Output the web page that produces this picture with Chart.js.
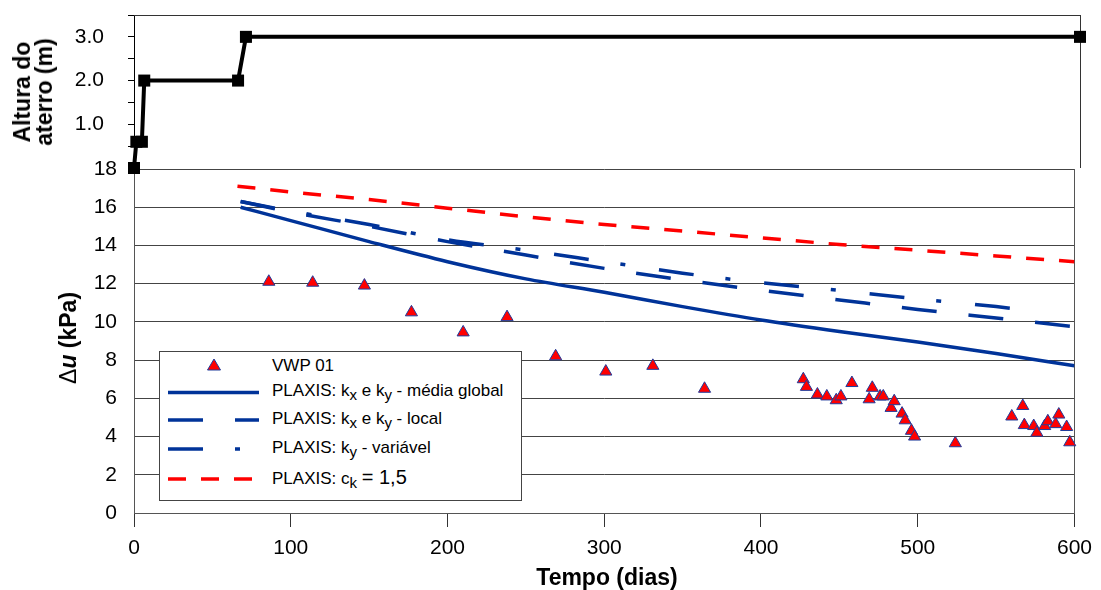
<!DOCTYPE html>
<html>
<head>
<meta charset="utf-8">
<title>Altura do aterro e Δu - VWP 01</title>
<script src="https://cdn.jsdelivr.net/npm/chart.js@4.4.1/dist/chart.umd.min.js"></script>
<style>
  body { margin: 0; background: #fff; }
  #wrap { position: relative; width: 1101px; height: 590px; overflow: hidden;
          font-family: Arial, "Liberation Sans", sans-serif; color: #000; }
  #wrap canvas { position: absolute; left: 0; top: 0; }
  .ttl { position: absolute; font-size: 23px; font-weight: bold; white-space: nowrap;
         line-height: 22px; text-align: center; transform: translate(-50%, -50%); }
  .rot { transform: translate(-50%, -50%) rotate(-90deg); }
  .ttl .delta { font-weight: normal; }
  #legend { position: absolute; left: 159px; top: 351px; width: 363px; height: 150px;
            box-sizing: border-box; border: 1px solid #444; background: #fff; }
  #legend svg { position: absolute; left: -1px; top: -1px; }
  #legend .row { position: absolute; left: 112px; font-size: 17px; line-height: 20px; white-space: nowrap; }
  #legend sub { font-size: 15px; vertical-align: -4px; line-height: 0; }
  #legend .big { font-size: 20px; }
</style>
</head>
<body>
<div id="wrap">
  <canvas id="cBottom" width="1101" height="590"></canvas>
  <canvas id="cTop" width="1101" height="590"></canvas>
  <div class="ttl rot" style="left:33px; top:92px;">Altura do<br>aterro (m)</div>
  <div class="ttl rot" style="left:68px; top:338px;"><span class="delta">Δ</span><i>u</i> (kPa)</div>
  <div class="ttl" style="left:607px; top:577px;">Tempo (dias)</div>
  <div id="legend">
    <svg width="363" height="150">
      <polygon points="55,8 61.5,19 48.5,19" fill="#ff0000" stroke="#203c9c" stroke-width="1"/>
      <line x1="9" y1="41.5" x2="100" y2="41.5" stroke="#003399" stroke-width="3.5"/>
      <line x1="9" y1="69" x2="100" y2="69" stroke="#003399" stroke-width="3.5" stroke-dasharray="35 32"/>
      <line x1="9" y1="98" x2="100" y2="98" stroke="#003399" stroke-width="3.5" stroke-dasharray="35 32 5 34"/>
      <line x1="9" y1="128" x2="100" y2="128" stroke="#ff0000" stroke-width="3.5" stroke-dasharray="18 15"/>
    </svg>
    <div class="row" style="top:4px;">VWP 01</div>
    <div class="row" style="top:29px;">PLAXIS: k<sub>x</sub> e k<sub>y</sub> - média global</div>
    <div class="row" style="top:57px;">PLAXIS: k<sub>x</sub> e k<sub>y</sub> - local</div>
    <div class="row" style="top:86px;">PLAXIS: k<sub>y</sub> - variável</div>
    <div class="row" style="top:115px;">PLAXIS: c<sub>k</sub> <span class="big">= 1,5</span></div>
  </div>
</div>
<script>
// altura do aterro (m) x tempo (dias)
const alturaDias = [0, 1.5, 5, 6.5, 66, 71, 600];
const alturaM = [0, 0.6, 0.6, 2.0, 2.0, 3.0, 3.0];

// VWP 01 - excesso de poropressao medido (kPa)
const vwpDias = [86, 114, 147, 177, 210, 238, 269, 301, 331, 364,
                 427, 429, 436, 442, 448, 451, 458, 469, 471, 476, 478, 483, 485, 490, 492, 496, 498,
                 524, 560, 567, 568, 574, 576, 581, 583, 588, 590, 595, 597];
const vwpKpa = [12.1, 12.05, 11.9, 10.5, 9.45, 10.25, 8.2, 7.4, 7.7, 6.5,
                7.0, 6.6, 6.2, 6.1, 5.9, 6.1, 6.8, 5.95, 6.55, 6.1, 6.1, 5.5, 5.85, 5.2, 4.85, 4.3, 4.0,
                3.65, 5.05, 5.6, 4.6, 4.55, 4.2, 4.55, 4.8, 4.65, 5.15, 4.5, 3.7];

// PLAXIS
const plaxisDias = [68, 100, 150, 200, 250, 300, 350, 400, 450, 500, 550, 600];
const globalKpa = [16.0, 15.3, 14.2, 13.15, 12.25, 11.55, 10.8, 10.1, 9.5, 8.95, 8.35, 7.7];
const localKpa = [16.3, 15.75, 15.0, 14.2, 13.5, 12.8, 12.2, 11.65, 11.15, 10.65, 10.2, 9.75];
const variavelDias = [68, 100, 150, 200, 250, 300, 350, 400, 450, 500, 550, 579];
const variavelKpa = [16.3, 15.8, 15.1, 14.3, 13.75, 13.15, 12.55, 12.05, 11.65, 11.2, 10.8, 10.5];
const ckDias = [66, 100, 150, 200, 250, 300, 350, 400, 450, 500, 550, 600];
const ckKpa = [17.1, 16.8, 16.4, 15.95, 15.5, 15.1, 14.75, 14.4, 14.05, 13.75, 13.45, 13.15];

// eixos
const tempoTicks = [0, 100, 200, 300, 400, 500, 600];
const duTicks = [0, 2, 4, 6, 8, 10, 12, 14, 16, 18];
const alturaTicks = [0.5, 1.0, 1.5, 2.0, 2.5, 3.0, 3.5];
const alturaLabels = ['', '1.0', '', '2.0', '', '3.0', ''];

const pts = (xs, ys) => xs.map((x, i) => ({ x: x, y: ys[i] }));

// eixo y com largura fixa, sem folga extra em cima/embaixo
const fixY = s => { s.width = 134; s.paddingTop = 0; s.paddingBottom = 0; };

Chart.defaults.font.family = 'Arial, "Liberation Sans", sans-serif';
Chart.defaults.color = '#000';

// moldura (topo / direita) do painel
const framePlugin = {
  id: 'frame',
  beforeDatasetsDraw(chart, args, opts) {
    const { ctx, chartArea: a } = chart;
    ctx.save();
    ctx.strokeStyle = opts.color;
    ctx.lineWidth = 1;
    ctx.beginPath();
    if (opts.top) {
      ctx.moveTo(a.left, Math.round(a.top) + 0.5);
      ctx.lineTo(a.right, Math.round(a.top) + 0.5);
    }
    ctx.moveTo(Math.round(a.right) + 0.5, a.top);
    ctx.lineTo(Math.round(a.right) + 0.5, a.bottom);
    ctx.stroke();
    ctx.restore();
  }
};

// painel superior: altura do aterro
new Chart('cTop', {
  type: 'line',
  data: {
    datasets: [{
      data: pts(alturaDias, alturaM),
      borderColor: '#000',
      borderWidth: 4,
      pointStyle: 'rect',
      pointRadius: 8.5,
      pointBackgroundColor: '#000',
      pointBorderWidth: 0,
      clip: false
    }]
  },
  options: {
    responsive: false,
    animation: false,
    events: [],
    layout: { padding: { left: 0, right: 21, top: 15, bottom: 422 } },
    plugins: {
      legend: { display: false },
      tooltip: { enabled: false },
      frame: { color: '#333', top: true }
    },
    scales: {
      x: { type: 'linear', min: 0, max: 600, display: false },
      y: {
        min: 0, max: 3.5,
        afterBuildTicks: s => { s.ticks = alturaTicks.map(v => ({ value: v })); },
        afterFit: fixY,
        ticks: {
          autoSkip: false,
          padding: 24,
          font: { size: 21 },
          callback: (v, i) => alturaLabels[i]
        },
        grid: { drawOnChartArea: false, tickLength: 6, color: '#000' },
        border: { color: '#000' }
      }
    }
  },
  plugins: [framePlugin]
});

// painel inferior: excesso de poropressao
new Chart('cBottom', {
  type: 'line',
  data: {
    datasets: [
      {
        label: 'VWP 01',
        data: pts(vwpDias, vwpKpa),
        showLine: false,
        pointStyle: 'triangle',
        pointRadius: 7,
        pointBackgroundColor: '#ff0000',
        pointBorderColor: '#203c9c',
        pointBorderWidth: 1,
        clip: false
      },
      {
        label: 'PLAXIS: kx e ky - média global',
        data: pts(plaxisDias, globalKpa),
        borderColor: '#003399',
        borderWidth: 3.5,
        pointRadius: 0,
        cubicInterpolationMode: 'monotone'
      },
      {
        label: 'PLAXIS: kx e ky - local',
        data: pts(plaxisDias, localKpa),
        borderColor: '#003399',
        borderWidth: 3.5,
        borderDash: [35, 32],
        pointRadius: 0,
        cubicInterpolationMode: 'monotone'
      },
      {
        label: 'PLAXIS: ky - variável',
        data: pts(variavelDias, variavelKpa),
        borderColor: '#003399',
        borderWidth: 3.5,
        borderDash: [35, 32, 5, 34],
        pointRadius: 0,
        cubicInterpolationMode: 'monotone'
      },
      {
        label: 'PLAXIS: ck = 1,5',
        data: pts(ckDias, ckKpa),
        borderColor: '#ff0000',
        borderWidth: 3.5,
        borderDash: [18, 15],
        pointRadius: 0,
        cubicInterpolationMode: 'monotone'
      }
    ]
  },
  options: {
    responsive: false,
    animation: false,
    events: [],
    layout: { padding: { left: 0, right: 21, top: 169, bottom: 0 } },
    plugins: {
      legend: { display: false },
      tooltip: { enabled: false },
      frame: { color: '#555', top: false }
    },
    scales: {
      x: {
        type: 'linear', min: 0, max: 600,
        afterBuildTicks: s => { s.ticks = tempoTicks.map(v => ({ value: v })); },
        afterFit: s => { s.height = 77; },
        ticks: { autoSkip: false, maxRotation: 0, padding: 9, font: { size: 21 } },
        grid: { drawOnChartArea: false, tickLength: 14, color: '#333' },
        border: { color: '#555' }
      },
      y: {
        min: 0, max: 18,
        afterBuildTicks: s => { s.ticks = duTicks.map(v => ({ value: v })); },
        afterFit: fixY,
        ticks: { autoSkip: false, padding: 17, font: { size: 21 } },
        grid: { drawTicks: false, color: '#444' },
        border: { color: '#555' }
      }
    }
  },
  plugins: [framePlugin]
});
</script>
</body>
</html>
